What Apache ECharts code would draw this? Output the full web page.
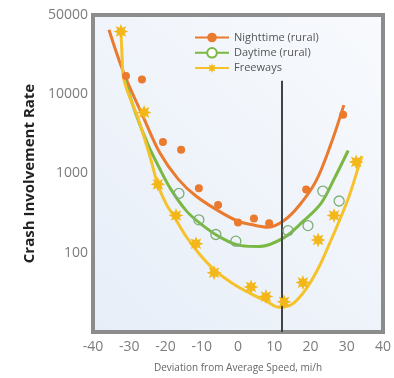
<!DOCTYPE html>
<html><head><meta charset="utf-8">
<script src="https://cdn.jsdelivr.net/npm/echarts@6/dist/echarts.min.js"></script>
<style>html,body{margin:0;padding:0;background:#fff}#c{width:394px;height:378px}</style>
</head><body><div id="c"></div>
<script>
// ---- data ----
const seriesNames = ['Nighttime (rural)', 'Daytime (rural)', 'Freeways'];
const xTicks = [-40, -30, -20, -10, 0, 10, 20, 30, 40];
const yTickLabels = { 10: '', 100: '100', 1000: '1000', 10000: '10000', 100000: '50000' };

const nightDots = [[-30.9,17000],[-26.5,15400],[-20.7,2500],[-15.7,2000],[-10.8,650],[-5.5,400],[0,240],[4.4,270],[8.6,235],[18.8,630],[29,5500]];
const nightCurve = [[-35.6,65000],[-31.4,18000],[-26,5000],[-21.5,1800],[-16.5,850],[-11.6,520],[-5.5,340],[0,250],[4,225],[8.3,210],[12.7,255],[17,400],[21.5,800],[25.7,2400],[29.2,7300]];

const dayDots = [[-16.3,560],[-10.8,260],[-6.1,170],[-0.6,140],[13.8,190],[19.3,220],[23.4,600],[27.9,450]];
const dayCurve = [[-31.2,15000],[-28.1,5500],[-24.8,2300],[-21.8,1200],[-18.5,630],[-14.3,340],[-10.2,230],[-5,158],[0.8,123],[6,120],[12.7,155],[18,250],[22.9,420],[26.5,850],[30.4,1950]];

const freeDots = [[-32.3,62000],[-25.9,5900],[-22.1,730],[-17.1,295],[-11.6,130],[-6.6,56],[3.6,37],[7.7,28],[12.7,24],[17.9,42],[22.1,145],[26.5,295],[32.6,1400]];
const freeCurve = [[-32.3,66000],[-32.0,32000],[-31.5,15500],[-27.6,5000],[-24.3,1650],[-22.1,720],[-19.9,420],[-17.5,280],[-14.2,158],[-10.6,96],[-6.5,61],[-1.5,41],[3.2,31],[7.8,24.5],[11.4,20.5],[15.0,22.5],[18.8,35],[22.4,67],[25.2,129],[27.9,250],[30.7,525],[33.4,1280],[34.2,1660]];

const vLineX = 12;
const vLineRange = [10, 14800];

// ---- styling ----
const C_NIGHT = '#ea7a2e', C_DAY = '#78b843', C_FREE = '#f5c22c', C_STAR = '#f3b71a';
function burst(n, r1, r2) {
  let d = '';
  for (let i = 0; i < 2 * n; i++) {
    const a = i * Math.PI / n - Math.PI / 2, r = i % 2 ? r2 : r1;
    d += (i ? 'L' : 'M') + (50 + r * Math.cos(a)).toFixed(2) + ' ' + (50 + r * Math.sin(a)).toFixed(2);
  }
  return 'path://' + d + 'Z';
}
const STAR = burst(8, 50, 26);

const chart = echarts.init(document.getElementById('c'));
const font = 'Open Sans';
chart.setOption({
  animation: false,
  backgroundColor: '#ffffff',
  grid: {
    left: 93, right: 10, top: 15, bottom: 42, show: true,
    backgroundColor: new echarts.graphic.LinearGradient(0, 1, 1, 0, [
      { offset: 0, color: '#e7eef8' }, { offset: 1, color: '#f8fafd' }]),
    borderColor: '#8c8c8c', borderWidth: 4
  },
  legend: {
    data: seriesNames, orient: 'vertical', left: 194, top: 32, padding: 0,
    itemWidth: 34, itemHeight: 12, itemGap: 4,
    textStyle: { fontFamily: font, fontSize: 11, color: '#555' }
  },
  xAxis: {
    type: 'value', min: xTicks[0], max: xTicks[xTicks.length - 1], interval: 10,
    axisLine: { show: false }, axisTick: { show: false }, splitLine: { show: false },
    axisLabel: { fontFamily: font, fontSize: 14, color: '#7c7c7c', margin: 8 },
    name: 'Deviation from Average Speed, mi/h', nameLocation: 'middle', nameGap: 31,
    nameTextStyle: { fontFamily: font, fontSize: 10, color: '#666' }
  },
  yAxis: {
    type: 'log', logBase: 10, min: 10, max: 100000,
    axisLine: { show: false }, axisTick: { show: false }, splitLine: { show: false },
    axisLabel: { fontFamily: font, fontSize: 14, color: '#7c7c7c', margin: 5,
      formatter: v => (yTickLabels[Math.round(v)] !== undefined ? yTickLabels[Math.round(v)] : '') },
    name: 'Crash Involvement Rate', nameLocation: 'middle', nameGap: 50,
    nameTextStyle: { fontFamily: font, fontSize: 15, fontWeight: 'bold', color: '#222' }
  },
  series: [
    { name: seriesNames[0], type: 'line', smooth: 0.35, data: nightCurve, showSymbol: false,
      symbol: 'circle', symbolSize: 8, itemStyle: { color: C_NIGHT },
      lineStyle: { color: C_NIGHT, width: 3 }, z: 3,
      markLine: { silent: true, symbol: 'none', label: { show: false },
        lineStyle: { color: '#444', width: 2, type: 'solid' },
        data: [[{ coord: [vLineX, vLineRange[0]] }, { coord: [vLineX, vLineRange[1]] }]] } },
    { name: seriesNames[1], type: 'line', smooth: 0.35, data: dayCurve, showSymbol: false,
      symbol: 'emptyCircle', symbolSize: 9, itemStyle: { color: C_DAY, borderWidth: 1.3 },
      lineStyle: { color: C_DAY, width: 3 }, z: 3 },
    { name: seriesNames[2], type: 'line', smooth: 0.35, data: freeCurve, showSymbol: false,
      symbol: STAR, symbolSize: 13, itemStyle: { color: C_STAR },
      lineStyle: { color: C_FREE, width: 3 }, z: 3 },
    { name: 'nightDots', type: 'scatter', data: nightDots, symbol: 'circle', symbolSize: 8,
      itemStyle: { color: C_NIGHT, opacity: 1 }, z: 5 },
    { name: 'dayDots', type: 'scatter', data: dayDots, symbol: 'circle', symbolSize: 10,
      itemStyle: { color: 'rgba(255,255,255,0)', borderColor: '#7fae74', borderWidth: 1.3, opacity: 1 }, z: 5 },
    { name: 'freeDots', type: 'scatter', data: freeDots, symbol: STAR, symbolSize: 15,
      itemStyle: { color: C_STAR, opacity: 1 }, z: 6 }
  ]
});
</script></body></html>
